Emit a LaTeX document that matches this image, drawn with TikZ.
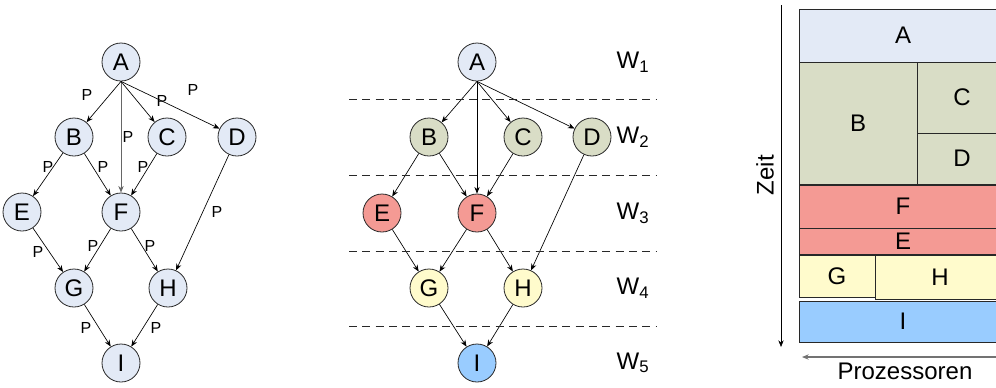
\documentclass[tikz,border=0pt]{standalone}
\usepackage{fontspec}
\setmainfont{Liberation Sans}
\usetikzlibrary{arrows.meta}

\definecolor{cA}{RGB}{227,234,246}
\definecolor{cB}{RGB}{217,221,198}
\definecolor{cE}{RGB}{244,154,148}
\definecolor{cG}{RGB}{255,251,204}
\definecolor{cI}{RGB}{153,204,255}
\definecolor{lineclr}{RGB}{40,40,40}

\begin{document}
\begin{tikzpicture}[x=0.75pt,y=-0.75pt,
  vtx/.style={circle, draw=lineclr, line width=0.6pt, minimum size=28.5pt, inner sep=0pt,
              font=\fontsize{18}{18}\selectfont},
  arc/.style={-{Stealth[length=5pt,width=4pt]}, line width=0.5pt, draw=black},
  plab/.style={font=\fontsize{12}{12}\selectfont, inner sep=0pt},
  wlab/.style={font=\fontsize{18}{18}\selectfont, inner sep=0pt},
  sep/.style={dashed, dash pattern=on 6pt off 4pt, line width=0.5pt, draw=lineclr},
  slot/.style={draw=lineclr, line width=0.6pt},
  blab/.style={font=\fontsize{18}{18}\selectfont},
]
\useasboundingbox (0,0) rectangle (996,387);

% ---------- task graph with communication labels ----------
\node[vtx, fill=cA] (lA) at (121,62) {A};
\node[vtx, fill=cA] (lB) at (74,137) {B};
\node[vtx, fill=cA] (lC) at (167,137) {C};
\node[vtx, fill=cA] (lD) at (237,137) {D};
\node[vtx, fill=cA] (lE) at (22,212) {E};
\node[vtx, fill=cA] (lF) at (121,212) {F};
\node[vtx, fill=cA] (lG) at (74,288) {G};
\node[vtx, fill=cA] (lH) at (168,288) {H};
\node[vtx, fill=cA] (lI) at (121,363) {I};

\draw[arc] (lA.south) -- (lB);
\draw[arc, draw=black!60, line width=0.7pt] (lA.south) -- (lF.north);
\draw[arc] (lA.south) -- (lC);
\draw[arc] (lA.south) -- (lD);
\draw[arc] (lB) -- (lE);
\draw[arc] (lB) -- (lF);
\draw[arc] (lC) -- (lF);
\draw[arc] (lD) -- (lH);
\draw[arc] (lE) -- (lG);
\draw[arc] (lF) -- (lG);
\draw[arc] (lF) -- (lH);
\draw[arc] (lG) -- (lI);
\draw[arc] (lH) -- (lI);

\node[plab] (pAB) at (87,95) {P};
\node[plab] (pAF) at (128,137) {P};
\node[plab] (pAC) at (162,101) {P};
\node[plab] (pAD) at (193,90) {P};
\node[plab] (pBE) at (48,167) {P};
\node[plab] (pBF) at (103,167) {P};
\node[plab] (pCF) at (143,167) {P};
\node[plab] (pDH) at (217,212) {P};
\node[plab] (pEG) at (38,252) {P};
\node[plab] (pFG) at (93,246) {P};
\node[plab] (pFH) at (150,246) {P};
\node[plab] (pGI) at (86,328) {P};
\node[plab] (pHI) at (156,328) {P};

% ---------- task graph split into wavefronts ----------
\node[vtx, fill=cA] (mA) at (477,62) {A};
\node[vtx, fill=cB] (mB) at (429,137) {B};
\node[vtx, fill=cB] (mC) at (523,137) {C};
\node[vtx, fill=cB] (mD) at (592,137) {D};
\node[vtx, fill=cE] (mE) at (382,213) {E};
\node[vtx, fill=cE] (mF) at (477,213) {F};
\node[vtx, fill=cG] (mG) at (429,288) {G};
\node[vtx, fill=cG] (mH) at (523,288) {H};
\node[vtx, fill=cI] (mI) at (477,363) {I};

\draw[arc] (mA.south) -- (mB);
\draw[arc] (mA.south) -- (mF.north);
\draw[arc] (mA.south) -- (mC);
\draw[arc] (mA.south) -- (mD);
\draw[arc] (mB) -- (mE);
\draw[arc] (mB) -- (mF);
\draw[arc] (mC) -- (mF);
\draw[arc] (mD) -- (mH);
\draw[arc] (mE) -- (mG);
\draw[arc] (mF) -- (mG);
\draw[arc] (mF) -- (mH);
\draw[arc] (mG) -- (mI);
\draw[arc] (mH) -- (mI);

\foreach \yy in {99,175,251,326}
  \draw[sep] (349,\yy) -- (657,\yy);

\node[wlab] (w1) at (633,62) {W\textsubscript{1}};
\node[wlab] (w2) at (633,137) {W\textsubscript{2}};
\node[wlab] (w3) at (633,213) {W\textsubscript{3}};
\node[wlab] (w4) at (633,288) {W\textsubscript{4}};
\node[wlab] (w5) at (633,363) {W\textsubscript{5}};

% ---------- schedule: time vs. processors ----------
\draw[slot, fill=cA] (799,9) rectangle (1002,62);
\node[blab] (sA) at (903,35.5) {A};
\draw[slot, fill=cB] (799,62) rectangle (917,184);
\node[blab] (sB) at (858,123) {B};
\draw[slot, fill=cB] (917,62) rectangle (1002,133);
\node[blab] (sC) at (962,97.5) {C};
\draw[slot, fill=cB] (917,133) rectangle (1002,184);
\node[blab] (sD) at (962,158.5) {D};
\draw[slot, fill=cE] (799,185) rectangle (1002,228);
\node[blab] (sF) at (903,206.5) {F};
\draw[slot, fill=cE] (799,228) rectangle (1002,254);
\node[blab] (sE) at (903,241) {E};
\draw[slot, fill=cG] (799,255) rectangle (875,297);
\node[blab] (sG) at (837,276) {G};
\draw[slot, fill=cG] (875,255) rectangle (1002,299);
\node[blab] (sH) at (940,277) {H};
\draw[slot, fill=cI] (799,301) rectangle (1002,342);
\node[blab] (sI) at (903,321.5) {I};

\coordinate (tTop) at (781,5);
\coordinate (tBot) at (781,347);
\draw[arc] (tTop) -- (tBot);
\node[blab, rotate=90] (zeit) at (765,175) {Zeit};

\coordinate (pRight) at (1002,357);
\coordinate (pLeft) at (802,357);
\draw[arc, draw=black!55, line width=0.8pt] (pRight) -- (pLeft);
\node[blab, inner sep=0pt] (proz) at (905,371) {Prozessoren};
\end{tikzpicture}
\end{document}
